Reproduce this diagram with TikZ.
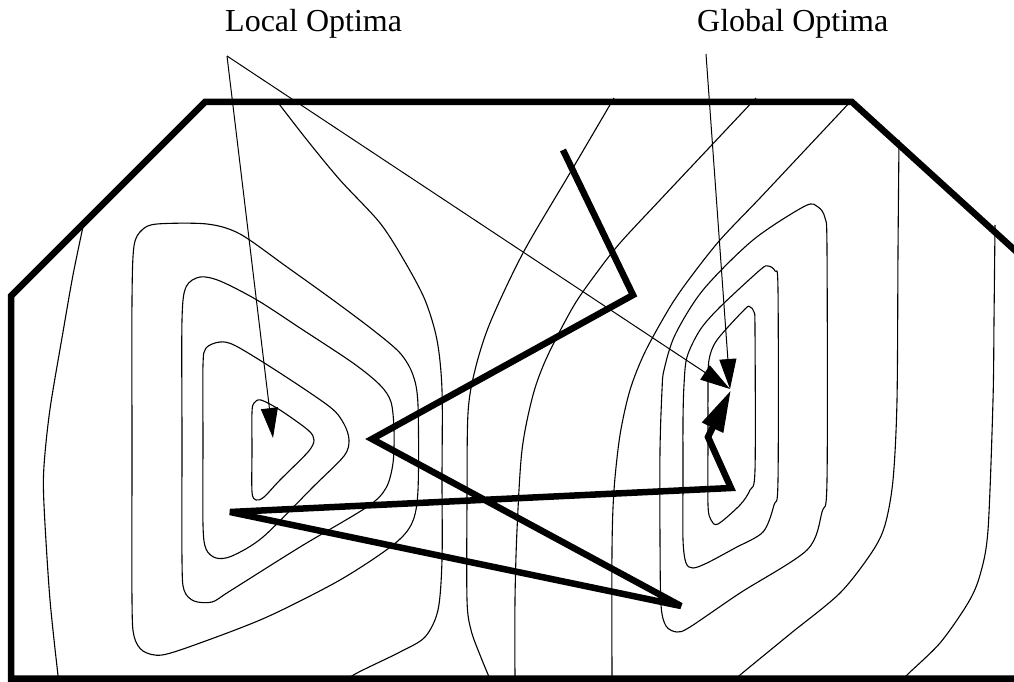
\documentclass[tikz,border=0pt]{standalone}
\usepackage{fontspec}
\setmainfont{Liberation Serif}
\usetikzlibrary{arrows.meta}
\begin{document}
\begin{tikzpicture}[x=1pt,y=-1pt,
  contour/.style={line width=1.1pt, line join=round},
  heavy/.style={line width=6.5pt, miter limit=4},
  ann/.style={line width=1pt, -{Triangle[length=30pt,width=17pt]}},
  lbl/.style={font=\fontsize{32}{38}\selectfont, inner sep=0pt, anchor=base west}]
\useasboundingbox (0,0) rectangle (1014,682);
\begin{scope}
\clip (0,0) rectangle (1014,682);
% left cluster
\draw[contour] plot[smooth cycle, tension=0.5] coordinates {(252,412) (254,403) (261,400) (280,410) (308,430) (314,440) (308,452) (280,480) (264,497) (256,500) (252,492) (252,450)};
\draw[contour] plot[smooth cycle, tension=0.5] coordinates {(203,365) (206,348) (220,342) (236,346) (280,373) (330,407) (344,424) (349,440) (344,456) (313,487) (263,537) (232,556) (216,558) (206,549) (203,525) (203,440)};
\draw[contour] plot[smooth cycle, tension=0.5] coordinates {(182,320) (186,287) (200,277) (220,281) (257,300) (300,328) (353,363) (380,385) (391,402) (394,430) (393,463) (386,488) (367,507) (300,547) (230,591) (212,602) (194,601) (184,590) (182,560) (182,440)};
\draw[contour] plot[smooth cycle, tension=0.5] coordinates {(132,300) (134,246) (142,230) (157,224) (207,224) (240,234) (287,267) (333,300) (373,330) (400,353) (413,375) (418,405) (418,490) (412,523) (393,545) (340,580) (267,617) (200,643) (162,655) (143,651) (134,636) (132,600) (132,450)};
\draw[contour] plot[smooth, tension=0.5] coordinates {(276,100) (307,140) (340,180) (380,223) (405,262) (425,300) (437,340) (442,390) (442,480) (442,560) (438,610) (425,637) (400,652) (357,673) (340,684)};
\draw[contour] plot[smooth, tension=0.5] coordinates {(84,222) (73,275) (63,332) (50,409) (44,466) (44,505) (50,600) (59,684)};
% middle
\draw[contour] plot[smooth, tension=0.5] coordinates {(614,98) (570,173) (523,253) (490,323) (475,370) (468,413) (467,500) (467,600) (471,630) (480,655) (492,684)};
\draw[contour] plot[smooth, tension=0.5] coordinates {(756,98) (708,149) (660,200) (620,243) (595,275) (573,307) (547,357) (533,395) (522,450) (517,530) (515,600) (515,684)};
\draw[contour] plot[smooth, tension=0.5] coordinates {(852,100) (806,149) (760,198) (720,240) (690,278) (670,307) (645,352) (630,390) (620,435) (614,490) (612,550) (612,684)};
% right cluster
\draw[contour] plot[smooth cycle, tension=0.5] coordinates {(708,390) (709,360) (717,340) (745,309) (750,307) (754,312) (755,330) (755,470) (750,490) (740,505) (718,524) (711,520) (708,505) (708,440)};
\draw[contour] plot[smooth cycle, tension=0.5] coordinates {(683,420) (684,385) (687,357) (700,330) (720,307) (760,270) (768,266) (775,271) (778,290) (778,480) (774,505) (763,532) (735,548) (707,563) (693,568) (686,563) (683,540) (683,480)};
\draw[contour] plot[smooth cycle, tension=0.5] coordinates {(660,450) (662,390) (664,370) (675,335) (703,290) (753,240) (805,206) (818,207) (825,218) (827,250) (827,480) (822,512) (807,550) (740,593) (690,627) (677,632) (666,626) (661,605) (660,540)};
\draw[contour] plot[smooth, tension=0.5] coordinates {(899,140) (898,250) (897,400) (893,480) (885,525) (872,552) (840,593) (790,634) (740,675) (730,684)};
\draw[contour] plot[smooth, tension=0.5] coordinates {(995,225) (994,320) (993,400) (988,530) (980,575) (968,603) (940,643) (907,675) (900,684)};
% border
\draw[heavy] (1030,264) -- (852,102) -- (205,102) -- (11,296) -- (11,678.5) -- (1030,678.5);
\end{scope}
% trajectory
\coordinate (p0) at (563,150);
\coordinate (p1) at (633,295);
\coordinate (p2) at (372,439);
\coordinate (p3) at (681,606);
\coordinate (p4) at (230,512);
\coordinate (p5) at (731,488);
\coordinate (p6) at (708,437);
\coordinate (pt) at (731,390);
\draw[heavy, -{Triangle[length=42pt,width=22pt]}] (p0) -- (p1) -- (p2) -- (p3) -- (p4) -- (p5) -- (p6) -- (pt);
% labels
\node[lbl] (loc) at (225,32) {Local Optima};
\node[lbl] (glob) at (697,32) {Global Optima};
\coordinate (la) at (227,56);
\coordinate (ga) at (706,54);
\coordinate (lt) at (273,438);
\coordinate (gt) at (730,389);
\draw[ann] (la) -- (lt);
\draw[ann] (la) -- (gt);
\draw[ann] (ga) -- (gt);
\end{tikzpicture}
\end{document}
